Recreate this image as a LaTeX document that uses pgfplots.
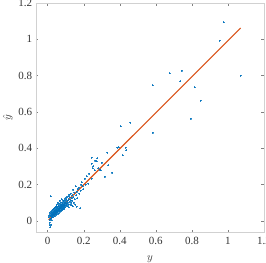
\documentclass[border=0pt]{standalone}
\usepackage{pgfplots}
\pgfplotsset{compat=1.18}
\usepackage{fontspec}
\setmainfont{Liberation Serif}
\definecolor{mblue}{rgb}{0,0.447,0.741}
\definecolor{morange}{rgb}{0.85,0.325,0.098}
\definecolor{axgray}{rgb}{0.82,0.82,0.82}
\definecolor{tickgray}{rgb}{0.5,0.5,0.5}
\definecolor{labgray}{rgb}{0.2,0.2,0.2}
\pgfplotstableread{
x y
0.005 0.02
0.008 0.03
0.010 0.045
0.010 -0.01
0.012 -0.025
0.013 -0.035
0.010 0.005
0.020 -0.02
0.015 0.01
0.015 0.025
0.017 0.135
0.018 0.04
0.020 0.015
0.020 0.03
0.021 0.05
0.022 0.02
0.023 0.005
0.024 0.035
0.025 0.045
0.025 0.06
0.026 0.025
0.027 0.03
0.028 0.04
0.030 0.02
0.030 0.05
0.031 0.035
0.032 0.065
0.033 0.045
0.034 0.03
0.035 0.055
0.036 0.04
0.037 0.07
0.038 0.025
0.040 0.05
0.040 0.06
0.041 0.035
0.042 0.075
0.043 0.045
0.044 0.055
0.045 0.065
0.046 0.04
0.047 0.08
0.048 0.05
0.049 0.06
0.050 0.07
0.050 0.035
0.051 0.09
0.052 0.055
0.053 0.045
0.054 0.075
0.055 0.065
0.056 0.1
0.057 0.05
0.058 0.08
0.059 0.06
0.060 0.07
0.061 0.04
0.062 0.085
0.063 0.055
0.064 0.095
0.065 0.065
0.066 0.075
0.067 0.05
0.068 0.11
0.069 0.08
0.070 0.06
0.071 0.09
0.072 0.07
0.073 0.1
0.074 0.055
0.075 0.085
0.076 0.075
0.077 0.065
0.078 0.12
0.079 0.09
0.080 0.08
0.081 0.06
0.082 0.1
0.083 0.07
0.084 0.095
0.085 0.085
0.086 0.11
0.087 0.075
0.088 0.065
0.089 0.105
0.090 0.09
0.091 0.08
0.092 0.115
0.093 0.07
0.094 0.1
0.095 0.085
0.096 0.125
0.097 0.095
0.098 0.075
0.099 0.11
0.100 0.1
0.102 0.085
0.104 0.12
0.105 0.095
0.107 0.13
0.108 0.08
0.110 0.11
0.112 0.1
0.114 0.135
0.115 0.09
0.117 0.12
0.118 0.075
0.120 0.145
0.121 0.105
0.123 0.13
0.125 0.09
0.127 0.115
0.128 0.15
0.130 0.1
0.132 0.125
0.134 0.085
0.135 0.14
0.137 0.11
0.140 0.08
0.141 0.172
0.143 0.13
0.145 0.1
0.148 0.155
0.150 0.12
0.152 0.09
0.156 0.19
0.158 0.14
0.160 0.077
0.162 0.16
0.165 0.125
0.168 0.175
0.172 0.182
0.175 0.15
0.180 0.07
0.182 0.165
0.185 0.2
0.190 0.213
0.193 0.19
0.198 0.175
0.206 0.232
0.210 0.2
0.217 0.246
0.224 0.206
0.230 0.26
0.243 0.232
0.243 0.315
0.243 0.348
0.250 0.29
0.254 0.302
0.261 0.278
0.265 0.33
0.272 0.328
0.276 0.344
0.280 0.29
0.289 0.281
0.294 0.278
0.300 0.32
0.317 0.243
0.331 0.376
0.335 0.307
0.357 0.265
0.385 0.404
0.394 0.407
0.404 0.522
0.415 0.361
0.433 0.404
0.437 0.39
0.459 0.541
0.583 0.485
0.583 0.746
0.676 0.813
0.735 0.768
0.744 0.826
0.794 0.563
0.815 0.735
0.848 0.663
0.954 0.993
0.976 1.094
1.070 0.80
}\pts
\begin{document}
\fontsize{11}{13}\selectfont
\begin{tikzpicture}
\begin{axis}[
  at={(0,0)}, anchor=south west,
  scale only axis, width=228pt, height=229pt,
  xmin=-0.065, xmax=1.2, ymin=-0.061, ymax=1.2,
  xtick={0,0.2,0.4,0.6,0.8,1,1.2},
  ytick={0,0.2,0.4,0.6,0.8,1,1.2},
  /pgf/number format/assume math mode=true,
  tick label style={font=\fontsize{11}{13}\selectfont, text=labgray},
  xticklabel style={yshift=-1pt},
  axis line style={axgray, line width=0.6pt},
  major tick style={tickgray, line width=0.5pt},
  tick align=inside, major tick length=2.5pt,
  xlabel={$y$}, ylabel={$\hat{y}$},
  label style={text=labgray},
  xlabel style={yshift=-4pt},
  ylabel style={yshift=-2pt},
  clip=false,
]
\addplot[only marks, mark=*, mark size=0.5pt, mblue, mark options={fill opacity=0.6, draw opacity=0.6, line width=0pt}] table {\pts};
\addplot[morange, line width=1.1pt] coordinates {(0.005,0.006) (1.07,1.062)};
\end{axis}
\pgfresetboundingbox
\path (-36pt,-31pt) rectangle (230pt,232pt);
\end{tikzpicture}
\end{document}
